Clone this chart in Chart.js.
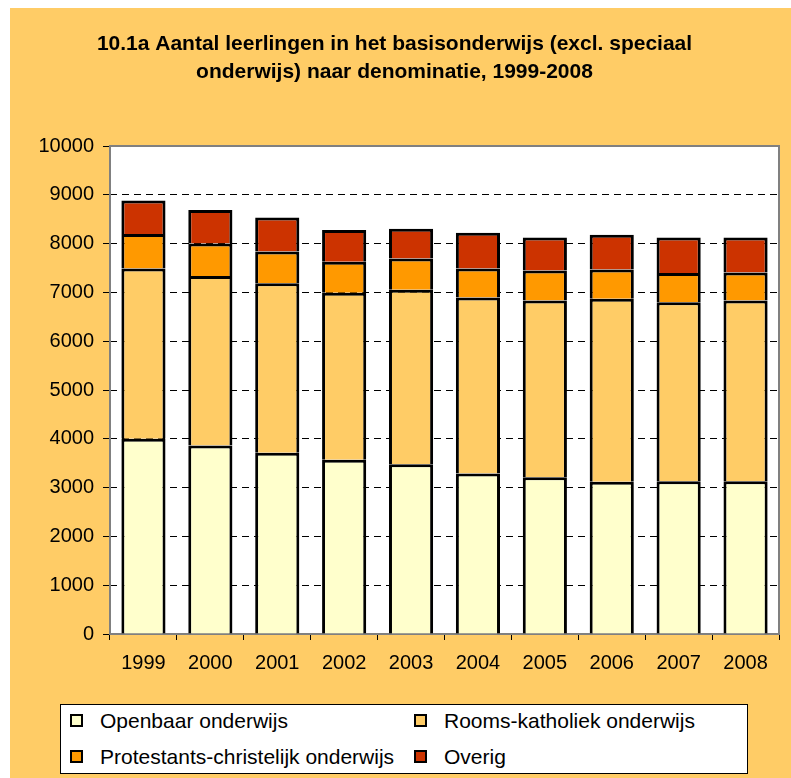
<!DOCTYPE html>
<html>
<head>
<meta charset="utf-8">
<script src="https://cdn.jsdelivr.net/npm/chart.js@4"></script>
<style>
  body { margin: 0; background: #fff; font-family: "Liberation Sans", Arial, sans-serif; }
  #wrap { position: absolute; left: 10px; top: 8px; width: 781px; height: 770px; background: #FFCC66; }
  #legend { position: absolute; left: 60px; top: 704px; width: 686px; height: 68px; background: #fff; border: 1px solid #000; }
  .item { position: absolute; height: 24px; line-height: 24px; font-size: 21px; color: #000; white-space: nowrap; }
  .box { position: absolute; left: 0; top: 5px; width: 9px; height: 9px; border: 2px solid #000; }
  .lbl { position: absolute; left: 30px; top: 0; }
</style>
</head>
<body>
<div id="wrap"><canvas id="myChart" width="781" height="770"></canvas></div>
<div id="legend"></div>
<script>
// Gegevens
const jaren = ["1999", "2000", "2001", "2002", "2003", "2004", "2005", "2006", "2007", "2008"];
const openbaar = [4000, 3865, 3715, 3570, 3480, 3290, 3210, 3120, 3130, 3130];
const roomsKatholiek = [3490, 3470, 3470, 3425, 3575, 3605, 3625, 3750, 3670, 3705];
const protestantsChristelijk = [705, 665, 655, 635, 640, 595, 615, 600, 595, 575];
const overig = [690, 690, 695, 650, 610, 730, 675, 710, 730, 715];

const titel = ["10.1a Aantal leerlingen in het basisonderwijs (excl. speciaal", "onderwijs) naar denominatie, 1999-2008"];
const font = "'Liberation Sans', Arial, sans-serif";

// witte plotvlak met grijze rand
const plotVlak = {
    id: "plotVlak",
    beforeDraw(chart) {
        const a = chart.chartArea;
        const ctx = chart.ctx;
        ctx.save();
        ctx.fillStyle = "#fff";
        ctx.fillRect(a.left, a.top, a.right - a.left, a.bottom - a.top);
        ctx.restore();
    },
    beforeDatasetsDraw(chart) {
        const a = chart.chartArea;
        const ctx = chart.ctx;
        ctx.save();
        ctx.strokeStyle = "#808080";
        ctx.lineWidth = 2;
        ctx.strokeRect(a.left, a.top, a.right - a.left, a.bottom - a.top);
        ctx.restore();
    }
};

function reeks(label, data, kleur) {
    return {
        label: label,
        data: data,
        backgroundColor: kleur,
        borderColor: "#000",
        borderWidth: 3,
        borderSkipped: "start",
        inflateAmount: 0,
        categoryPercentage: 1,
        barPercentage: 0.66,
    };
}

const ctx = document.getElementById("myChart").getContext("2d");
const myChart = new Chart(ctx, {
    type: "bar",
    data: {
        labels: jaren,
        datasets: [
            reeks("Openbaar onderwijs", openbaar, "#FFFFCC"),
            reeks("Rooms-katholiek onderwijs", roomsKatholiek, "#FFCC66"),
            reeks("Protestants-christelijk onderwijs", protestantsChristelijk, "#FF9900"),
            reeks("Overig", overig, "#CC3300"),
        ],
    },
    options: {
        responsive: false,
        animation: false,
        layout: { padding: { left: 0, right: 12, top: 0, bottom: 94 } },
        plugins: {
            legend: { display: false },
            tooltip: { enabled: false },
            title: {
                display: true,
                text: titel,
                color: "#000",
                font: { family: font, size: 21, weight: "bold", lineHeight: 1.3 },
                padding: { top: 23, bottom: 60.4 },
            },
        },
        scales: {
            x: {
                stacked: true,
                afterFit: (s) => { s.height = 50; },
                grid: { drawOnChartArea: false, tickLength: 6, color: "#000" },
                border: { color: "#000", width: 1 },
                ticks: { color: "#000", padding: 11, font: { family: font, size: 20 } },
            },
            y: {
                stacked: true,
                min: 0,
                max: 10000,
                afterFit: (s) => { s.width = 100; },
                grid: {
                    color: (c) => (c.tick && (c.tick.value === 0 || c.tick.value === 10000)) ? "rgba(0,0,0,0)" : "#000",
                    tickColor: "#000",
                    tickLength: 7,
                },
                border: { display: false, dash: [7, 5] },
                ticks: {
                    stepSize: 1000,
                    color: "#000",
                    padding: 9,
                    font: { family: font, size: 20 },
                    callback: (v) => String(v),
                },
            },
        },
    },
    plugins: [plotVlak],
});

// Legenda in een wit kader, twee kolommen
const legenda = document.getElementById("legend");
myChart.data.datasets.forEach((ds, i) => {
    const item = document.createElement("div");
    item.className = "item";
    item.style.left = (9 + (i % 2) * 344) + "px";
    item.style.top = (4 + Math.floor(i / 2) * 36) + "px";
    item.innerHTML = '<span class="box" style="background:' + ds.backgroundColor + '"></span><span class="lbl">' + ds.label + '</span>';
    legenda.appendChild(item);
});
</script>
</body>
</html>
